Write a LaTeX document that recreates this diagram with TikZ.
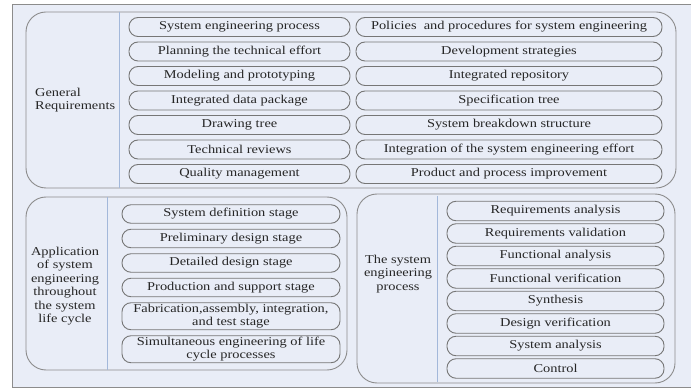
\documentclass[tikz,border=0pt]{standalone}
\usepackage{fontspec}
\setmainfont{Liberation Serif}[FakeStretch=1.2]
\usepackage{xcolor}
\usetikzlibrary{positioning}

\definecolor{panelbg}{HTML}{E9EDF7}
\definecolor{framegray}{HTML}{8C8C8C}
\definecolor{pillgray}{HTML}{767676}
\definecolor{divblue}{HTML}{A3B8DA}

\begin{document}
\begin{tikzpicture}[x=1pt,y=-1pt,
  font=\fontsize{12}{13.5}\selectfont,
  pill/.style={draw=pillgray, line width=0.9pt, rounded corners=9pt,
    minimum height=19pt, inner xsep=2pt, inner ysep=1pt, outer sep=0pt,
    align=center, text=black!85},
  wide/.style={pill, minimum width=306pt},
  gen/.style={pill, minimum width=221pt},
  life/.style={pill, minimum width=218pt, minimum height=18.5pt},
  proc/.style={pill, minimum width=217pt, minimum height=19.5pt},
  groupbox/.style={draw=framegray, line width=0.9pt, rounded corners=20pt},
  divider/.style={draw=divblue, line width=0.8pt},
  grouplabel/.style={text=black!85, inner sep=0pt}]
  \useasboundingbox (0,0) rectangle (691,390);
  % page panel
  \fill[panelbg] (12,4) rectangle (691,387);
  \draw[framegray, line width=0.9pt] (691,4) -- (12,4) -- (12,387) -- (691,387);

  % general requirements
  \draw[groupbox] (26,12) rectangle (676,188);
  \draw[divider] (119,12) -- (119,188);
  \node[grouplabel, anchor=west, align=left] (genlabel) at (35,100)
    {General\\Requirements};
  \node[gen] (gen1) at (239.5,27) {System engineering process};
  \node[gen, below=5.5pt of gen1] (gen2) {Planning the technical effort};
  \node[gen, below=5.5pt of gen2] (gen3) {Modeling and prototyping};
  \node[gen, below=5.5pt of gen3] (gen4) {Integrated data package};
  \node[gen, below=5.5pt of gen4] (gen5) {Drawing tree};
  \node[gen, below=5.5pt of gen5] (gen6) {Technical reviews};
  \node[gen, below=5.5pt of gen6] (gen7) {Quality management};
  \node[wide, right=6pt of gen1] (pol1) {Policies\ \ and procedures for system engineering};
  \node[wide, right=6pt of gen2] (pol2) {Development strategies};
  \node[wide, right=6pt of gen3] (pol3) {Integrated repository};
  \node[wide, right=6pt of gen4] (pol4) {Specification tree};
  \node[wide, right=6pt of gen5] (pol5) {System breakdown structure};
  \node[wide, right=6pt of gen6] (pol6) {Integration of the system engineering effort};
  \node[wide, right=6pt of gen7] (pol7) {Product and process improvement};

  % life cycle
  \draw[groupbox] (26,197) rectangle (347,370);
  \draw[divider] (107,197) -- (107,370);
  \node[grouplabel, align=center] (lifelabel) at (65,286)
    {Application\\of system\\engineering\\throughout\\the system\\life cycle};
  \node[life] (life1) at (231,214) {System definition stage};
  \node[life, below=6pt of life1] (life2) {Preliminary design stage};
  \node[life, below=6pt of life2] (life3) {Detailed design stage};
  \node[life, below=6pt of life3] (life4) {Production and support stage};
  \node[life, minimum height=27pt, below=6pt of life4] (life5)
    {Fabrication,assembly, integration,\\and test stage};
  \node[life, minimum height=27pt, below=6pt of life5] (life6)
    {Simultaneous engineering of life\\cycle processes};

  % engineering process
  \draw[groupbox] (357,194) rectangle (675,383);
  \draw[divider] (437,196) -- (437,382);
  \node[grouplabel, align=center] (proclabel) at (398,274)
    {The system\\engineering\\process};
  \node[proc] (proc1) at (555.5,211) {Requirements analysis};
  \node[proc, below=3pt of proc1] (proc2) {Requirements validation};
  \node[proc, below=3pt of proc2] (proc3) {Functional analysis};
  \node[proc, below=3pt of proc3] (proc4) {Functional verification};
  \node[proc, below=3pt of proc4] (proc5) {Synthesis};
  \node[proc, below=3pt of proc5] (proc6) {Design verification};
  \node[proc, below=3pt of proc6] (proc7) {System analysis};
  \node[proc, below=3pt of proc7] (proc8) {Control};
\end{tikzpicture}
\end{document}
